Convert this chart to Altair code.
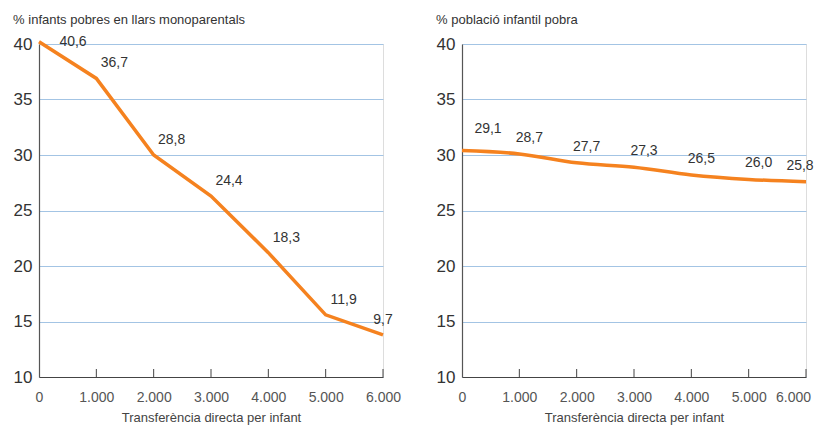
import altair as alt
import pandas as pd

# ---- data ----
transfer = [0, 1000, 2000, 3000, 4000, 5000, 6000]
left_values = [40.2, 36.9, 30.0, 26.3, 21.2, 15.6, 13.8]
left_labels = ["40,6", "36,7", "28,8", "24,4", "18,3", "11,9", "9,7"]
right_values = [30.4, 30.1, 29.3, 28.9, 28.2, 27.8, 27.6]
right_labels = ["29,1", "28,7", "27,7", "27,3", "26,5", "26,0", "25,8"]
y_ticks = [10, 15, 20, 25, 30, 35, 40]

left_title = "% infants pobres en llars monoparentals"
right_title = "% població infantil pobra"
x_title = "Transferència directa per infant"

W, H = 344, 333
ORANGE = "#f5821f"
GRID = "#a3c4e4"
FONT = "Liberation Sans"

left_df = pd.DataFrame({"x": transfer, "y": left_values, "label": left_labels})
right_df = pd.DataFrame({"x": transfer, "y": right_values, "label": right_labels})
tick_df = pd.DataFrame({"x": transfer[1:]})

xscale = alt.Scale(domain=[0, 6000], nice=False)
yscale = alt.Scale(domain=[10, 40], nice=False)


def panel(df, title, interp, first_dx, last_dx, mid_dx, first_dy, other_dy, last_lab_off):
    base = alt.Chart(df)
    x_enc = alt.X(
        "x:Q", scale=xscale,
        axis=alt.Axis(
            values=transfer, title=x_title, grid=False, ticks=False,
            labelExpr="replace(format(datum.value, ','), ',', '.')",
            labelFontSize=14, labelColor="#555", labelPadding=13,
            labelFlush=False,
            labelOffset={"condition": {"test": "datum.value == 6000", "value": last_lab_off}, "value": 0},
            titleFontSize=13, titleColor="#444", titleFontWeight="normal",
            titlePadding=7, domainColor="#444", domainWidth=1.2,
        ),
    )
    y_enc = alt.Y(
        "y:Q", scale=yscale,
        axis=alt.Axis(
            values=y_ticks, title=None, grid=True, gridColor=GRID,
            gridWidth=1.2, ticks=False, labelFontSize=17, labelColor="#333",
            labelPadding=7, domainColor="#555", domainWidth=1.2,
        ),
    )
    line = base.mark_line(color=ORANGE, strokeWidth=3.5, interpolate=interp).encode(
        x=x_enc, y=y_enc
    )
    ticks = alt.Chart(tick_df).mark_rule(color="#444", strokeWidth=1).encode(
        x=alt.X("x:Q", scale=xscale), y=alt.value(H), y2=alt.value(H - 8)
    )
    dx_expr = (
        f"datum.x == 0 ? {first_dx} : (datum.x == 6000 ? {last_dx} : {mid_dx})"
    )
    dy_expr = f"datum.x == 0 ? {first_dy} : {other_dy}"
    labels = base.transform_calculate(
        lx=f"datum.x + ({dx_expr}) * 6000 / {W}",
        ly=f"datum.y + ({dy_expr}) * 30 / {H}",
    ).mark_text(fontSize=14, color="#333", align="center", baseline="middle", font=FONT).encode(
        x=alt.X("lx:Q", scale=xscale), y=alt.Y("ly:Q", scale=yscale), text="label:N"
    )
    return alt.layer(line, ticks, labels).properties(
        width=W, height=H,
        title=alt.TitleParams(
            title, anchor="start", fontSize=13, fontWeight="normal",
            color="#333", offset=8, font=FONT,
        ),
    )


left = panel(left_df, left_title, "linear", 34, 0, 18, 0, 15, 0)
right = panel(right_df, right_title, "monotone", 26, -6, 10, 22, 16, -13)

chart = alt.hconcat(left, right, spacing=33).properties(
    padding={"left": 4, "top": 5, "right": 0, "bottom": 0}
).configure_view(stroke=None).configure(font=FONT)

chart.save("out.html", embed_options={"renderer": "svg", "actions": False})
